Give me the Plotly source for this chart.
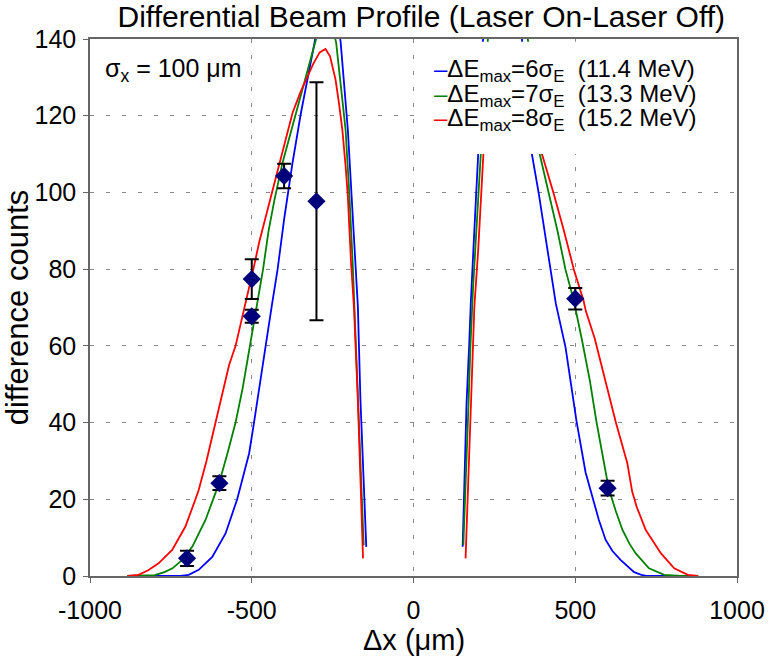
import plotly.graph_objects as go

# measured points (diamonds) with error bars
pts_x = [-700, -600, -500, -500, -400, -300, 500, 600]
pts_y = [4.6, 24.2, 77.4, 67.7, 104.3, 97.7, 72.3, 22.9]
pts_err = [2.0, 1.8, 5.2, 1.7, 3.2, 31.0, 2.8, 1.9]

# model curves, left branch / right branch (None = gap)
blue_x = [-810, -720, -695, -664, -622, -581, -545, -508, -493, -477, -457, -437, -420, -400, -374, -348, -306,
          -285, -260, -240, -225, -203, -191, -179, -172, -164, -151, -146, None,
          152, 164, 172, 177, 188, 200, 215, 240, 270, 300, 330, 366, 387, 405, 423, 440, 470, 504, 532, 548,
          573, 594, 615, 640, 682, 708, 720, 820]
blue_y = [0, 0, 0.3, 1.6, 5, 11.1, 20, 32, 40, 49.4, 60, 71, 80, 93, 107.7, 120.7, 139,
          150, 155, 150, 139, 116.4, 99, 81.6, 70.3, 45.9, 19.8, 7.6, None,
          7.6, 45, 60, 71, 90, 110, 140, 155, 160, 158, 145, 110, 99.8, 90, 79.8, 71, 59.6, 40.3, 27, 22,
          14.6, 9.4, 6.5, 4.2, 1, 0.2, 0, 0]

green_x = [-885, -800, -770, -745, -715, -684, -643, -619, -601, -575, -550, -528, -506, -485, -465, -448, -430,
           -405, -363, -320, -301, -285, -265, -250, -239, -210, -198, -188, -178, -168, -160, -154, None,
           154, 160, 168, 176, 184, 208, 230, 260, 300, 340, 370, 390, 418, 445, 470, 495, 522, 545, 566, 590,
           603, 625, 646, 667, 687, 728, 775, 827, 880]
green_y = [0, 0.2, 1, 2, 4.2, 7.6, 14.6, 20, 24.2, 32, 40, 49, 60, 70, 80, 90, 98,
           107.7, 120.7, 133.8, 140, 145, 146, 143, 139, 116.4, 99, 81.6, 60, 40, 24, 8, None,
           8, 24, 40, 60, 75, 110, 140, 150, 155, 148, 130, 110, 99.8, 90, 79.8, 72, 61, 51, 40, 29.4,
           23, 17, 12, 8.5, 5.9, 2, 0.3, 0, 0]

red_x = [-884, -850, -820, -788, -746, -705, -674, -664, -640, -612, -591, -570, -550, -519, -495, -477, -450,
         -420, -400, -374, -350, -332, -310, -290, -272, -258, -248, -241, -230, -220, -210, -203, -193, -184,
         -172, -162, -156, None,
         161, 167, 176, 188, 200, 216, 250, 280, 310, 350, 397, 433, 465, 496, 525, 533, 560, 593, 625, 661,
         676, 690, 718, 765, 806, 848, 880]
red_y = [0, 0.3, 1.5, 3.3, 6.8, 12.9, 20, 22.4, 30, 40, 47.7, 55, 60, 71, 80, 87, 96,
         106, 112, 120.7, 126, 129.4, 133.5, 136.5, 137.4, 135.5, 132, 129.4, 123, 116.4, 107, 99, 81.6, 70,
         45.9, 19.8, 4.6, None,
         4.6, 20, 45, 70, 85, 110, 130, 137, 135, 125, 110, 99.8, 90, 79.8, 72, 69, 62, 51.1, 40.2, 29.4,
         22, 18, 12, 5.9, 2, 0.3, 0]

legend_labels = ["ΔE<sub>max</sub>=6σ<sub>E</sub>\u00a0\u00a0(11.4 MeV)",
                 "ΔE<sub>max</sub>=7σ<sub>E</sub>\u00a0\u00a0(13.3 MeV)",
                 "ΔE<sub>max</sub>=8σ<sub>E</sub>\u00a0\u00a0(15.2 MeV)"]
colors = ["#0000ff", "#008000", "#ff0000"]

x_ticks = [-1000, -500, 0, 500, 1000]
x_ticklabels = ["-1000", "-500", "0", "500", "1000"]

FONT = "Liberation Sans, Arial, sans-serif"

fig = go.Figure()

for cx, cy, col, name in zip([blue_x, green_x, red_x], [blue_y, green_y, red_y], colors, legend_labels):
    fig.add_trace(go.Scatter(x=cx, y=cy, mode='lines', name=name,
                             line=dict(color=col, width=1.8), connectgaps=False))

fig.add_trace(go.Scatter(x=pts_x, y=pts_y, mode='markers', name='data',
                         marker=dict(symbol='diamond', size=14, color='#00007a'),
                         error_y=dict(type='data', array=pts_err, color='black', thickness=2, width=7)))

# white box behind the legend text (hides curves like the original)
fig.add_shape(type='rect', xref='x', yref='y', x0=10, x1=995, y0=110, y1=139.3,
              fillcolor='white', line=dict(width=0), layer='above')

for i, (lab, col) in enumerate(zip(legend_labels, colors)):
    fig.add_annotation(x=57, y=131.7 - i * 6.3, xref='x', yref='y', xanchor='left', yanchor='middle',
                       showarrow=False, font=dict(size=24, family=FONT, color='black'),
                       text="<span style='color:%s'>–</span>%s" % (col, lab))

fig.add_annotation(x=-960, y=131.9, xref='x', yref='y', xanchor='left', yanchor='middle', showarrow=False,
                   text="σ<sub>x</sub> = 100 μm", font=dict(size=25, family=FONT, color='black'))

# x axis title, placed by hand so it stays inside the page
fig.add_annotation(x=0.5, y=-0.152, xref='paper', yref='paper', xanchor='center', yanchor='bottom',
                   showarrow=False, text="Δx (μm)", font=dict(size=29, family=FONT, color='black'))

fig.update_layout(
    width=773, height=657,
    margin=dict(l=90, r=36, t=39, b=81),
    plot_bgcolor='white', paper_bgcolor='white',
    showlegend=False,
    font=dict(family=FONT, size=25, color='black'),
    title=dict(text="Differential Beam Profile (Laser On-Laser Off)", x=0.545, xanchor='center',
               y=0.991, yanchor='top', font=dict(size=30)),
)

fig.update_xaxes(range=[-1000, 1000], tickvals=x_ticks, ticktext=x_ticklabels, showgrid=True,
                 gridcolor='#888', griddash='4px,12px', gridwidth=1, zeroline=False,
                 showline=True, linecolor='#666', linewidth=1.5, mirror=True,
                 ticks='outside', ticklen=5, tickcolor='#666', ticklabelstandoff=6, automargin=False)
fig.update_yaxes(range=[0, 140], dtick=20, showgrid=True,
                 gridcolor='#888', griddash='4px,12px', gridwidth=1, zeroline=False,
                 showline=True, linecolor='#666', linewidth=1.5, mirror=True,
                 ticks='outside', ticklen=5, tickcolor='#666', ticklabelstandoff=2, automargin=False,
                 title=dict(text="difference counts", standoff=0, font=dict(size=31)))

# drop the browser's default 8px body margin so the figure sits at the page corner
fig.write_html("out.html", config={'displayModeBar': False},
               post_script="document.body.style.margin='0';")
